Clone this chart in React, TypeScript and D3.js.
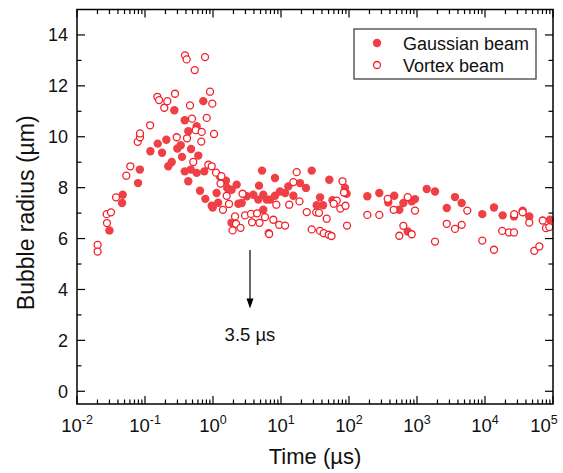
import React from "react";
import * as d3 from "d3";

const gaussTime = [0.030, 0.047, 0.046, 0.079, 0.084, 0.120, 0.154, 0.178, 0.206, 0.220, 0.247, 0.270, 0.299, 0.335, 0.350, 0.384, 0.433, 0.475, 0.608, 0.384, 0.433, 0.470, 0.575, 0.720, 0.575, 0.745, 0.644, 0.771, 0.99, 1.13, 1.27, 1.55, 1.62, 1.88, 2.23, 2.36, 2.64, 1.87, 0.957, 1.19, 3.13, 3.92, 4.63, 5.49, 4.75, 5.26, 6.16, 5.49, 8.16, 28.3, 51.3, 6.89, 8.16, 9.67, 11.5, 12.8, 15.2, 19.0, 23.3, 37.5, 33.5, 41.5, 57.2, 92.5, 87.3, 186, 279, 378, 463, 549, 630, 836, 935, 730, 1390, 1840, 2740, 3620, 4540, 9120, 13550, 18200, 26700, 35800, 44800, 90400];
const gaussRadius = [6.32, 7.72, 7.40, 8.18, 8.71, 9.43, 9.73, 9.37, 9.88, 8.84, 9.01, 11.04, 9.54, 9.67, 9.21, 10.65, 10.22, 9.52, 9.26, 8.64, 8.25, 8.71, 8.58, 11.40, 10.41, 8.64, 7.88, 7.56, 7.22, 7.79, 8.43, 8.27, 7.99, 7.92, 8.12, 7.37, 7.40, 6.62, 7.29, 7.41, 7.66, 7.72, 7.53, 7.72, 8.08, 8.67, 7.53, 7.13, 8.38, 8.67, 8.31, 7.53, 7.68, 7.85, 7.79, 8.05, 7.68, 8.18, 7.99, 7.62, 7.31, 7.31, 7.51, 7.76, 7.99, 7.66, 7.79, 7.42, 7.68, 7.13, 7.40, 7.46, 7.55, 6.28, 7.95, 7.85, 7.20, 7.63, 7.40, 6.96, 7.22, 6.91, 6.87, 7.09, 6.87, 6.74];

const vortexTime = [0.0201, 0.0201, 0.0273, 0.0276, 0.0316, 0.0375, 0.0531, 0.0608, 0.0781, 0.0844, 0.0844, 0.119, 0.152, 0.161, 0.192, 0.213, 0.276, 0.293, 0.387, 0.410, 0.538, 0.763, 0.459, 0.491, 0.415, 0.557, 0.682, 0.904, 0.977, 0.808, 1.035, 0.673, 0.513, 0.853, 0.957, 1.11, 1.33, 1.29, 1.59, 1.72, 1.40, 2.11, 2.96, 3.62, 4.44, 2.18, 3.75, 4.83, 2.54, 1.94, 5.82, 6.59, 2.72, 17.0, 15.2, 80.2, 84.4, 18.7, 13.2, 8.53, 23.9, 33.0, 36.2, 47.0, 65.9, 59.6, 74.5, 88.9, 93.5, 7.71, 9.41, 11.5, 6.70, 28.3, 37.5, 42.5, 50.3, 55.3, 186, 279, 371, 454, 730, 935, 630, 549, 836, 1840, 2740, 3620, 4540, 5490, 9120, 13550, 17900, 22500, 26700, 26900, 35800, 44800, 53100, 62900, 70600, 78900, 88300];
const vortexRadius = [5.75, 5.49, 6.96, 6.61, 7.03, 7.62, 8.47, 8.84, 9.80, 9.98, 10.13, 10.45, 11.57, 11.44, 11.14, 11.40, 11.69, 9.98, 13.20, 13.04, 12.62, 13.13, 11.23, 10.71, 9.94, 10.26, 10.19, 11.77, 11.30, 10.74, 10.11, 9.81, 9.01, 8.90, 8.84, 8.59, 8.45, 8.16, 7.68, 7.36, 7.13, 6.87, 6.91, 6.97, 6.99, 6.58, 6.64, 6.62, 6.42, 6.32, 6.84, 6.21, 7.76, 8.61, 8.22, 8.25, 7.81, 7.46, 7.33, 7.33, 7.04, 7.03, 7.01, 6.78, 7.49, 7.37, 7.18, 7.29, 6.51, 6.74, 6.54, 6.51, 6.18, 6.36, 6.30, 6.21, 6.15, 6.10, 6.93, 6.93, 7.56, 7.13, 7.63, 7.10, 6.50, 6.11, 6.17, 5.88, 6.58, 6.38, 6.54, 7.10, 5.92, 5.56, 6.30, 6.24, 6.24, 6.96, 7.03, 6.63, 5.52, 5.69, 6.71, 6.41, 6.45];

const yTicks = [0, 2, 4, 6, 8, 10, 12, 14];
const yMinorTicks = [1, 3, 5, 7, 9, 11, 13];
const xTickExps = [-2, -1, 0, 1, 2, 3, 4, 5];
const legendLabels = ["Gaussian beam", "Vortex beam"];
const arrowTime = 3.5;
const arrowLabel = "3.5 µs";
const xTitle = "Time (µs)";
const yTitle = "Bubble radius (µm)";

const W = 563;
const H = 473;
const L = 77, R = 553, T = 9.5, B = 404;
const FONT = "'Liberation Sans', Arial, sans-serif";
const FILL = "#ef4046";
const STROKE = "#f2202a";

export default function App() {
  const x = d3.scaleLog().domain([1e-2, 1e5]).range([L, R]);
  const y = d3.scaleLinear().domain([-0.5, 15]).range([B, T]);

  const minorX: number[] = [];
  for (let e = -2; e < 5; e++) {
    for (let m = 2; m <= 9; m++) minorX.push(m * Math.pow(10, e));
  }

  const gauss = gaussTime.map((t, i) => [t, gaussRadius[i]]);
  const vortex = vortexTime.map((t, i) => [t, vortexRadius[i]]);

  const majLen = 8, minLen = 4.5;
  const ax = x(arrowTime);
  const lastExp = xTickExps[xTickExps.length - 1];

  return (
    <svg width={W} height={H} style={{ position: "absolute", left: 0, top: 0, background: "#fff" }} fontFamily={FONT}>
      <rect x={0} y={0} width={W} height={H} fill="#fff" />
      {/* data */}
      {gauss.map((d, i) => (
        <circle key={"g" + i} cx={x(d[0])} cy={y(d[1])} r={4.2} fill={FILL} />
      ))}
      {vortex.map((d, i) => (
        <circle key={"v" + i} cx={x(d[0])} cy={y(d[1])} r={3.5} fill="#fff" stroke={STROKE} strokeWidth={1.3} />
      ))}

      {/* ticks */}
      <g stroke="#000" strokeWidth={1.2}>
        {yTicks.map((v) => (
          <g key={"yt" + v}>
            <line x1={L} x2={L + majLen} y1={y(v)} y2={y(v)} />
            <line x1={R} x2={R - majLen} y1={y(v)} y2={y(v)} />
          </g>
        ))}
        {yMinorTicks.map((v) => (
          <g key={"ym" + v}>
            <line x1={L} x2={L + minLen} y1={y(v)} y2={y(v)} />
            <line x1={R} x2={R - minLen} y1={y(v)} y2={y(v)} />
          </g>
        ))}
        {xTickExps.map((e) => (
          <g key={"xt" + e}>
            <line x1={x(Math.pow(10, e))} x2={x(Math.pow(10, e))} y1={B} y2={B - majLen} />
            <line x1={x(Math.pow(10, e))} x2={x(Math.pow(10, e))} y1={T} y2={T + majLen} />
          </g>
        ))}
        {minorX.map((v, i) => (
          <g key={"xm" + i}>
            <line x1={x(v)} x2={x(v)} y1={B} y2={B - minLen} />
            <line x1={x(v)} x2={x(v)} y1={T} y2={T + minLen} />
          </g>
        ))}
      </g>
      <rect x={L} y={T} width={R - L} height={B - T} fill="none" stroke="#000" strokeWidth={1.5} />

      {/* tick labels */}
      {yTicks.map((v) => (
        <text key={"yl" + v} x={L - 9} y={y(v)} dy="0.35em" textAnchor="end" fontSize={18} fill="#111">{v}</text>
      ))}
      {xTickExps.map((e) => (
        <text key={"xl" + e} x={x(Math.pow(10, e)) - (e === lastExp ? 9 : 0)} y={432} textAnchor="middle" fontSize={18.5} fill="#111">
          <tspan>10</tspan>
          <tspan dy={-8} fontSize={12.5}>{e}</tspan>
        </text>
      ))}

      {/* titles */}
      <text x={(L + R) / 2} y={464} textAnchor="middle" fontSize={22} fill="#111">{xTitle}</text>
      <text transform={`translate(34, ${(T + B) / 2 + 6}) rotate(-90)`} textAnchor="middle" fontSize={23} fill="#111">{yTitle}</text>

      {/* arrow */}
      <line x1={ax} x2={ax} y1={y(5.55)} y2={y(3.45)} stroke="#000" strokeWidth={1.2} />
      <path d={`M${ax - 3.5},${y(3.65)} L${ax + 3.5},${y(3.65)} L${ax},${y(3.25)} Z`} fill="#000" />
      <text x={ax} y={341} textAnchor="middle" fontSize={18.5} fill="#111">{arrowLabel}</text>

      {/* legend */}
      <rect x={354} y={29} width={182} height={50} fill="#fff" stroke="#333" strokeWidth={1.2} />
      <circle cx={377} cy={43} r={4.2} fill={FILL} />
      <circle cx={377} cy={65} r={3.5} fill="#fff" stroke={STROKE} strokeWidth={1.3} />
      <text x={403} y={49.5} fontSize={18} fill="#111">{legendLabels[0]}</text>
      <text x={403} y={71.5} fontSize={18} fill="#111">{legendLabels[1]}</text>
    </svg>
  );
}
